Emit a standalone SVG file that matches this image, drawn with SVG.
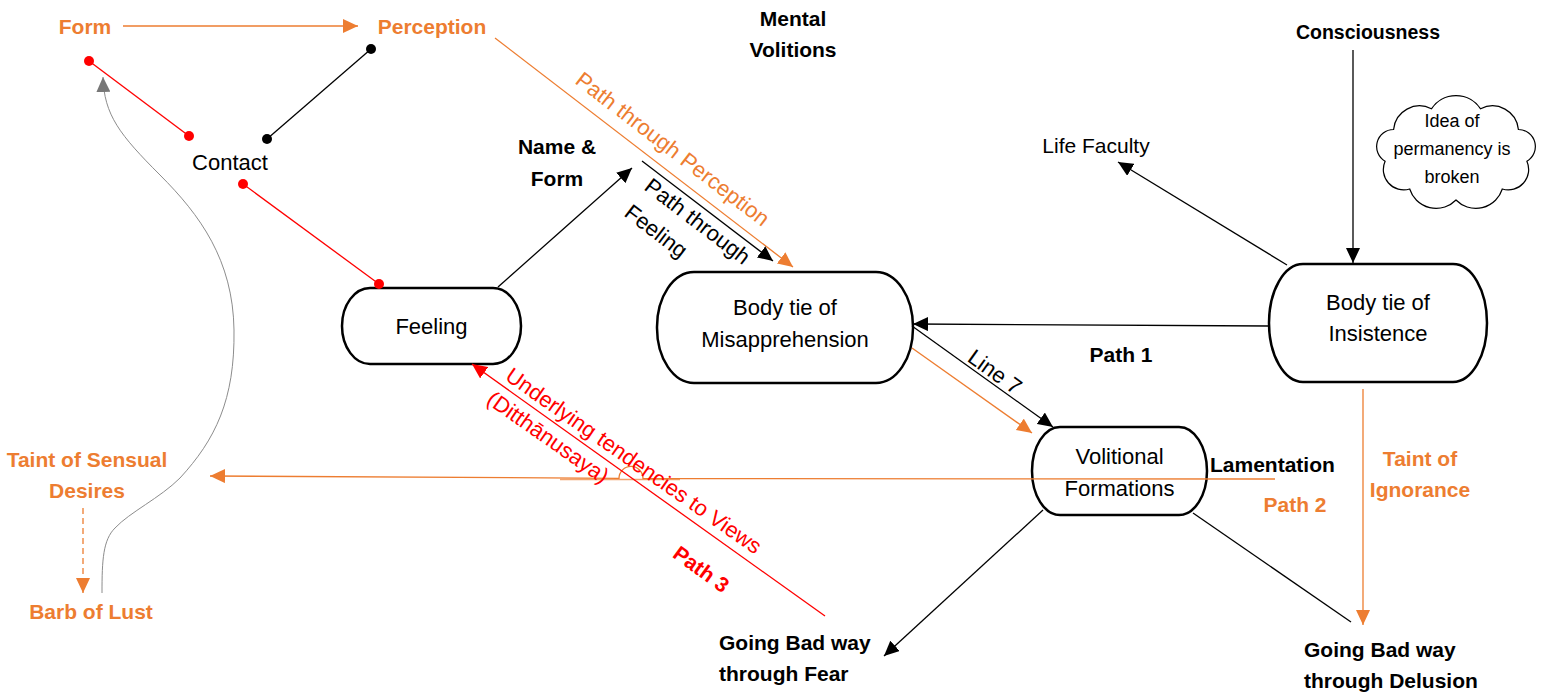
<svg xmlns="http://www.w3.org/2000/svg" width="1548" height="692" viewBox="0 0 1548 692">
<style>
.t{font-family:"Liberation Sans",Arial,sans-serif;font-size:22px;fill:#000}
.b{font-weight:bold;font-size:21px}
.o{fill:#ED7D31}
.r{fill:#FF0000}
.m{text-anchor:middle}
.n{fill:#fff;stroke:#000;stroke-width:2.5}
.k{fill:none;stroke:#000;stroke-width:1.3}
.ko{fill:none;stroke:#ED7D31;stroke-width:1.3}
.kr{fill:none;stroke:#FF0000;stroke-width:1.3}
.kg{fill:none;stroke:#8C8C8C;stroke-width:1}
</style>
<defs>
<marker id="ak" viewBox="0 0 15 14" refX="15" refY="7" markerWidth="15" markerHeight="14" markerUnits="userSpaceOnUse" orient="auto"><path d="M0,0 L15,7 L0,14 z" fill="#000"/></marker>
<marker id="ao" viewBox="0 0 15 14" refX="15" refY="7" markerWidth="15" markerHeight="14" markerUnits="userSpaceOnUse" orient="auto"><path d="M0,0 L15,7 L0,14 z" fill="#ED7D31"/></marker>
<marker id="ar" viewBox="0 0 15 14" refX="15" refY="7" markerWidth="15" markerHeight="14" markerUnits="userSpaceOnUse" orient="auto"><path d="M0,0 L15,7 L0,14 z" fill="#FF0000"/></marker>
<marker id="ag" viewBox="0 0 15 14" refX="15" refY="7" markerWidth="15" markerHeight="14" markerUnits="userSpaceOnUse" orient="auto"><path d="M0,0 L15,7 L0,14 z" fill="#777"/></marker>
<marker id="dr" viewBox="-6 -6 12 12" refX="0" refY="0" markerWidth="12" markerHeight="12" markerUnits="userSpaceOnUse"><circle r="5" fill="#FF0000"/></marker>
<marker id="dk" viewBox="-6 -6 12 12" refX="0" refY="0" markerWidth="12" markerHeight="12" markerUnits="userSpaceOnUse"><circle r="5" fill="#000"/></marker>
</defs>
<rect width="1548" height="692" fill="#fff"/>

<g id="node-feeling">
<rect class="n" x="342" y="288" width="179" height="76" rx="28" ry="38"/>
<text class="t m" x="431.5" y="334">Feeling</text>
</g>
<g id="node-misapprehension">
<rect class="n" x="657" y="272" width="256" height="111" rx="37" ry="55"/>
<text class="t m" x="785" y="315">Body tie of</text>
<text class="t m" x="785" y="347">Misapprehension</text>
</g>
<g id="node-insistence">
<rect class="n" x="1269" y="264" width="218" height="118" rx="34" ry="59"/>
<text class="t m" x="1378" y="310">Body tie of</text>
<text class="t m" x="1378" y="341">Insistence</text>
</g>
<g id="node-volitional">
<rect class="n" x="1032" y="427" width="175" height="88" rx="28" ry="44"/>
<text class="t m" x="1119.5" y="464">Volitional</text>
<text class="t m" x="1119.5" y="496">Formations</text>
</g>
<g id="node-cloud">
<path fill="#fff" stroke="#000" stroke-width="1.2" d="M1393.6,129.5 A26,26 0 0 1 1431.4,108.8 A29.6,29.6 0 0 1 1480.6,108.8 A26,26 0 0 1 1518.4,129.5 A17,17 0 0 1 1526.9,161.2 A20.4,20.4 0 0 1 1502.3,189 A27.7,27.7 0 0 1 1456,200 A27.7,27.7 0 0 1 1409.7,189 A20.4,20.4 0 0 1 1385.1,161.2 A17,17 0 0 1 1393.6,129.5 z"/>
<text class="t m" style="font-size:18px" x="1452" y="127">Idea of</text>
<text class="t m" style="font-size:18px" x="1452" y="155">permanency is</text>
<text class="t m" style="font-size:18px" x="1452" y="183">broken</text>
</g>

<g id="node-form"><text class="t b o m" x="85" y="34">Form</text></g>
<g id="node-perception"><text class="t b o m" x="432" y="34">Perception</text></g>
<g id="node-contact"><text class="t m" x="230" y="170">Contact</text></g>
<g id="node-nameform"><text class="t b m" x="557" y="154">Name &amp;</text><text class="t b m" x="557" y="186">Form</text></g>
<g id="node-mental"><text class="t b m" x="793" y="26">Mental</text><text class="t b m" x="793" y="57">Volitions</text></g>
<g id="node-consciousness"><text class="t b m" style="font-size:19.5px" x="1368" y="39">Consciousness</text></g>
<g id="node-life"><text class="t m" style="font-size:21px" x="1096" y="153">Life Faculty</text></g>
<g id="node-sensual"><text class="t b o m" x="87" y="467">Taint of Sensual</text><text class="t b o m" x="87" y="498">Desires</text></g>
<g id="node-barb"><text class="t b o m" x="91" y="619">Barb of Lust</text></g>
<g id="node-ignorance"><text class="t b o m" x="1420" y="466">Taint of</text><text class="t b o m" x="1420" y="497">Ignorance</text></g>
<g id="node-fear"><text class="t b" x="719" y="650">Going Bad way</text><text class="t b" x="719" y="681">through Fear</text></g>
<g id="node-delusion"><text class="t b" x="1304" y="657">Going Bad way</text><text class="t b" x="1304" y="688">through Delusion</text></g>

<g id="connectors">
<path class="ko" d="M123,26 L358,26" marker-end="url(#ao)"/>
<path class="kr" d="M89,61 L189,136" marker-start="url(#dr)" marker-end="url(#dr)"/>
<path class="k" d="M371,49 L267,139" marker-start="url(#dk)" marker-end="url(#dk)"/>
<path class="kr" d="M243,184 L379,284" marker-start="url(#dr)" marker-end="url(#dr)"/>
<path class="kg" d="M102,593 C102,560 103,540 115,528 C130,512 160,498 180,478 C215,440 235,400 234,330 C233,260 200,215 160,175 C120,135 104,115 103,77" marker-end="url(#ag)"/>
<path class="k" d="M498,287 L632,168" marker-end="url(#ak)"/>
<path class="ko" d="M495,38 L793,267" marker-end="url(#ao)"/>
<path class="k" d="M642,161 L773,261" marker-end="url(#ak)"/>
<path class="k" d="M1269,326 L913,324" marker-end="url(#ak)"/>
<path class="k" d="M912,326 L1053,427" marker-end="url(#ak)"/>
<path class="ko" d="M912,348 L1032,433" marker-end="url(#ao)"/>
<path class="k" d="M1353,50 L1353,263" marker-end="url(#ak)"/>
<path class="k" d="M1287,265 L1118,162" marker-end="url(#ak)"/>
<path class="ko" d="M1363,389 L1363,625" marker-end="url(#ao)"/>
<path class="k" d="M1043,510 L884,656" marker-end="url(#ak)"/>
<path class="k" d="M1193,513 L1351,622"/>
<path class="ko" d="M1275,479 L643,478.5 A12,12 0 0 0 619,478.3 L210,476" marker-end="url(#ao)"/>
<path class="ko" d="M560,479.5 L680,479.5" opacity="0.7"/>
<path class="kr" d="M825,616 L472,364" marker-end="url(#ar)"/>
<path class="ko" d="M83,508 L83,593" stroke-dasharray="6,4" marker-end="url(#ao)"/>
</g>

<g id="labels">
<text class="t b" x="1210" y="472">Lamentation</text>
<text class="t b m" x="1121" y="362">Path 1</text>
<text class="t b o m" x="1295" y="512">Path 2</text>
<text class="t b r m" transform="translate(697,575) rotate(36)">Path 3</text>
<text class="t o m" transform="translate(668,155) rotate(37.5)">Path through Perception</text>
<text class="t" transform="translate(643,189) rotate(37.4)"><tspan x="0" y="0">Path through</tspan><tspan x="0" dy="33">Feeling</tspan></text>
<text class="t m" transform="translate(990.5,378) rotate(35.6)">Line 7</text>
<text class="t r" transform="translate(504,379) rotate(35)"><tspan x="0" y="0">Underlying tendencies to Views</tspan><tspan x="-2" dy="30">(Ditthānusaya)</tspan></text>
</g>
</svg>
